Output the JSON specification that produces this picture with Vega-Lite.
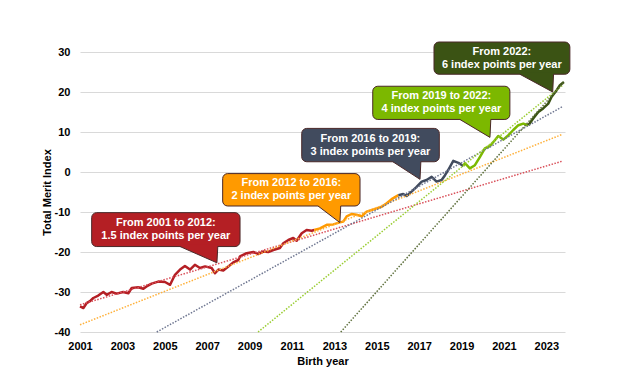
{
  "$schema": "https://vega.github.io/schema/vega-lite/v6.json",
  "width": 485,
  "height": 280,
  "autosize": {"type": "none"},
  "padding": {"left": 80, "top": 52, "right": 63, "bottom": 38},
  "background": "white",
  "config": {
    "view": {"stroke": null},
    "font": "Liberation Sans",
    "axis": {
      "labelFont": "Liberation Sans", "labelFontWeight": "bold", "labelFontSize": 11, "labelColor": "#000000",
      "titleFont": "Liberation Sans", "titleFontWeight": "bold", "titleFontSize": 11, "titleColor": "#000000",
      "domain": false, "ticks": false, "gridColor": "#d9d9d9", "gridWidth": 1, "labelFlush": false, "labelOverlap": false
    }
  },
  "datasets": {
    "main": [
      {"s":"a","x":2001.00,"y":-33.6},{"s":"a","x":2001.16,"y":-34.0},{"s":"a","x":2001.31,"y":-32.8},{"s":"a","x":2001.47,"y":-32.3},
      {"s":"a","x":2001.63,"y":-31.5},{"s":"a","x":2001.86,"y":-30.9},{"s":"a","x":2002.10,"y":-30.0},{"s":"a","x":2002.26,"y":-30.7},
      {"s":"a","x":2002.49,"y":-30.0},{"s":"a","x":2002.73,"y":-30.4},{"s":"a","x":2003.04,"y":-30.0},{"s":"a","x":2003.28,"y":-30.3},
      {"s":"a","x":2003.44,"y":-29.0},{"s":"a","x":2003.75,"y":-28.8},{"s":"a","x":2003.99,"y":-29.2},{"s":"a","x":2004.14,"y":-28.6},
      {"s":"a","x":2004.38,"y":-27.9},{"s":"a","x":2004.69,"y":-27.4},{"s":"a","x":2005.01,"y":-27.5},{"s":"a","x":2005.25,"y":-28.2},
      {"s":"a","x":2005.48,"y":-25.7},{"s":"a","x":2005.72,"y":-24.4},{"s":"a","x":2005.95,"y":-23.5},{"s":"a","x":2006.19,"y":-24.4},
      {"s":"a","x":2006.42,"y":-23.2},{"s":"a","x":2006.66,"y":-24.0},{"s":"a","x":2006.90,"y":-23.6},{"s":"a","x":2007.21,"y":-24.0},
      {"s":"a","x":2007.37,"y":-25.3},{"s":"a","x":2007.53,"y":-24.4},{"s":"a","x":2007.76,"y":-24.6},{"s":"a","x":2008.00,"y":-23.6},
      {"s":"a","x":2008.23,"y":-22.6},{"s":"a","x":2008.47,"y":-22.0},{"s":"a","x":2008.55,"y":-21.1},{"s":"a","x":2008.86,"y":-20.3},
      {"s":"a","x":2009.18,"y":-20.0},{"s":"a","x":2009.41,"y":-20.5},{"s":"a","x":2009.65,"y":-19.9},{"s":"a","x":2009.88,"y":-20.0},
      {"s":"a","x":2010.12,"y":-19.5},{"s":"a","x":2010.43,"y":-19.0},{"s":"a","x":2010.59,"y":-17.8},{"s":"a","x":2010.83,"y":-17.0},
      {"s":"a","x":2011.06,"y":-16.5},{"s":"a","x":2011.22,"y":-17.2},{"s":"a","x":2011.46,"y":-15.3},{"s":"a","x":2011.69,"y":-14.5},
      {"s":"a","x":2011.93,"y":-14.7},{"s":"a","x":2012.05,"y":-14.5},
      {"s":"b","x":2012.05,"y":-14.5},{"s":"b","x":2012.32,"y":-14.1},{"s":"b","x":2012.64,"y":-13.2},{"s":"b","x":2012.95,"y":-13.1},
      {"s":"b","x":2013.26,"y":-12.6},{"s":"b","x":2013.42,"y":-12.4},{"s":"b","x":2013.58,"y":-11.1},{"s":"b","x":2013.81,"y":-10.5},
      {"s":"b","x":2014.05,"y":-10.7},{"s":"b","x":2014.29,"y":-11.1},{"s":"b","x":2014.52,"y":-9.9},{"s":"b","x":2014.76,"y":-9.5},
      {"s":"b","x":2014.99,"y":-9.1},{"s":"b","x":2015.23,"y":-8.7},{"s":"b","x":2015.47,"y":-7.8},{"s":"b","x":2015.70,"y":-6.8},
      {"s":"b","x":2016.02,"y":-5.8},
      {"s":"c","x":2016.02,"y":-5.8},{"s":"c","x":2016.25,"y":-5.5},{"s":"c","x":2016.41,"y":-6.0},{"s":"c","x":2016.64,"y":-4.9},
      {"s":"c","x":2016.88,"y":-3.7},{"s":"c","x":2017.12,"y":-2.4},{"s":"c","x":2017.35,"y":-2.0},{"s":"c","x":2017.59,"y":-1.2},
      {"s":"c","x":2017.82,"y":-2.4},{"s":"c","x":2018.06,"y":-2.0},{"s":"c","x":2018.22,"y":-0.8},{"s":"c","x":2018.37,"y":0.5},
      {"s":"c","x":2018.61,"y":2.8},{"s":"c","x":2018.85,"y":2.3},{"s":"c","x":2019.08,"y":1.5},
      {"s":"d","x":2019.08,"y":1.5},{"s":"d","x":2019.16,"y":2.2},{"s":"d","x":2019.39,"y":0.9},{"s":"d","x":2019.63,"y":1.7},
      {"s":"d","x":2019.87,"y":3.8},{"s":"d","x":2020.10,"y":5.9},{"s":"d","x":2020.34,"y":6.5},{"s":"d","x":2020.58,"y":8.0},
      {"s":"d","x":2020.73,"y":9.0},{"s":"d","x":2020.97,"y":8.1},{"s":"d","x":2021.21,"y":9.2},{"s":"d","x":2021.44,"y":10.5},
      {"s":"d","x":2021.68,"y":11.7},{"s":"d","x":2021.91,"y":12.1},{"s":"d","x":2022.15,"y":11.7},
      {"s":"e","x":2022.15,"y":11.7},{"s":"e","x":2022.38,"y":13.4},{"s":"e","x":2022.62,"y":15.0},{"s":"e","x":2022.85,"y":15.9},
      {"s":"e","x":2023.09,"y":17.1},{"s":"e","x":2023.25,"y":18.8},{"s":"e","x":2023.48,"y":20.4},{"s":"e","x":2023.64,"y":21.7},
      {"s":"e","x":2023.83,"y":22.5}
    ],
    "trend": [
      {"s":"ta","x":2001.0,"y":-33.2},{"s":"ta","x":2023.75,"y":2.7},
      {"s":"tb","x":2001.0,"y":-38.2},{"s":"tb","x":2023.75,"y":9.4},
      {"s":"tc","x":2004.62,"y":-40.0},{"s":"tc","x":2023.75,"y":16.3},
      {"s":"td","x":2009.4,"y":-40.0},{"s":"td","x":2023.75,"y":21.6},
      {"s":"te","x":2013.3,"y":-40.0},{"s":"te","x":2023.8,"y":22.3}
    ],
    "boxes": [
      {"s":"a","x":2001.55,"x2":2008.55,"y":-18.64,"y2":-10.16,"xc":2005.05,"yc":-14.4,"t":"From 2001 to 2012:\n1.5 index points per year"},
      {"s":"b","x":2007.73,"x2":2014.21,"y":-8.5,"y2":-0.4,"xc":2010.97,"yc":-4.45,"t":"From 2012 to 2016:\n2 index points per year"},
      {"s":"c","x":2011.46,"x2":2017.95,"y":2.56,"y2":10.9,"xc":2014.7,"yc":6.73,"t":"From 2016 to 2019:\n3 index points per year"},
      {"s":"d","x":2014.81,"x2":2021.28,"y":13.14,"y2":21.44,"xc":2018.05,"yc":17.29,"t":"From 2019 to 2022:\n4 index points per year"},
      {"s":"e","x":2017.70,"x2":2024.11,"y":24.44,"y2":32.5,"xc":2020.9,"yc":28.47,"t":"From 2022:\n6 index points per year"}
    ],
    "pointers": [
      {"s":"a","x":2005.72,"y":-18.64,"y2":-18.2},{"s":"a","x":2007.46,"y":-22.7,"y2":-18.2},{"s":"a","x":2007.5,"y":-18.64,"y2":-18.2},
      {"s":"b","x":2012.23,"y":-8.5,"y2":-8.06},{"s":"b","x":2013.26,"y":-12.65,"y2":-8.06},{"s":"b","x":2013.3,"y":-8.5,"y2":-8.06},
      {"s":"c","x":2015.76,"y":2.56,"y2":3.0},{"s":"c","x":2017.04,"y":-1.83,"y2":3.0},{"s":"c","x":2017.08,"y":2.56,"y2":3.0},
      {"s":"d","x":2018.92,"y":13.14,"y2":13.58},{"s":"d","x":2020.34,"y":8.65,"y2":13.58},{"s":"d","x":2020.38,"y":13.14,"y2":13.58},
      {"s":"e","x":2021.75,"y":24.44,"y2":24.88},{"s":"e","x":2023.30,"y":20.0,"y2":24.88},{"s":"e","x":2023.34,"y":24.44,"y2":24.88}
    ]
  },
  "encoding": {
    "x": {
      "field": "x", "type": "quantitative",
      "scale": {"domain": [2001, 2023.88], "nice": false, "zero": false},
      "axis": {"title": "Birth year", "values": [2001,2003,2005,2007,2009,2011,2013,2015,2017,2019,2021,2023], "format": "d", "grid": false, "labelPadding": 8, "titlePadding": 4}
    },
    "y": {
      "field": "y", "type": "quantitative",
      "scale": {"domain": [-40, 30], "nice": false, "zero": false},
      "axis": {"title": "Total Merit Index", "values": [-40,-30,-20,-10,0,10,20,30], "labelExpr": "'' + datum.value", "grid": true, "labelPadding": 10, "titlePadding": 2}
    }
  },
  "layer": [
    {
      "data": {"name": "main"},
      "mark": {"type": "line", "strokeWidth": 2.5, "strokeJoin": "round"},
      "encoding": {
        "color": {"field": "s", "type": "nominal", "legend": null,
          "scale": {"domain": ["a","b","c","d","e","ta","tb","tc","td","te"], "range": ["#B41F24","#FF9A00","#414B5E","#7CB800","#3B5314","#D9505A","#FFB13B","#6F7791","#9ACD32","#5C6E3A"]}}
      }
    },
    {
      "data": {"name": "trend"},
      "mark": {"type": "line", "strokeWidth": 1.5, "strokeDash": [1.5, 1.5]},
      "encoding": {
        "color": {"field": "s", "type": "nominal", "legend": null}
      }
    },
    {
      "data": {"name": "boxes"},
      "mark": {"type": "rect", "cornerRadius": 5, "stroke": "#4a2828", "strokeWidth": 1, "opacity": 1},
      "encoding": {
        "x2": {"field": "x2"},
        "y2": {"field": "y2"},
        "color": {"field": "s", "type": "nominal", "legend": null}
      }
    },
    {
      "data": {"name": "pointers"},
      "mark": {"type": "area", "opacity": 1},
      "encoding": {
        "y2": {"field": "y2"},
        "color": {"field": "s", "type": "nominal", "legend": null}
      }
    },
    {
      "data": {"name": "pointers"},
      "mark": {"type": "line", "stroke": "#4a2828", "strokeWidth": 1},
      "encoding": {
        "detail": {"field": "s", "type": "nominal"}
      }
    },
    {
      "data": {"name": "boxes"},
      "mark": {"type": "text", "fontSize": 11, "fontWeight": "bold", "color": "#ffffff", "lineBreak": "\n", "lineHeight": 13, "align": "center", "baseline": "middle", "dy": -6.5},
      "encoding": {
        "x": {"field": "xc", "type": "quantitative"},
        "y": {"field": "yc", "type": "quantitative"},
        "text": {"field": "t"}
      }
    }
  ]
}
